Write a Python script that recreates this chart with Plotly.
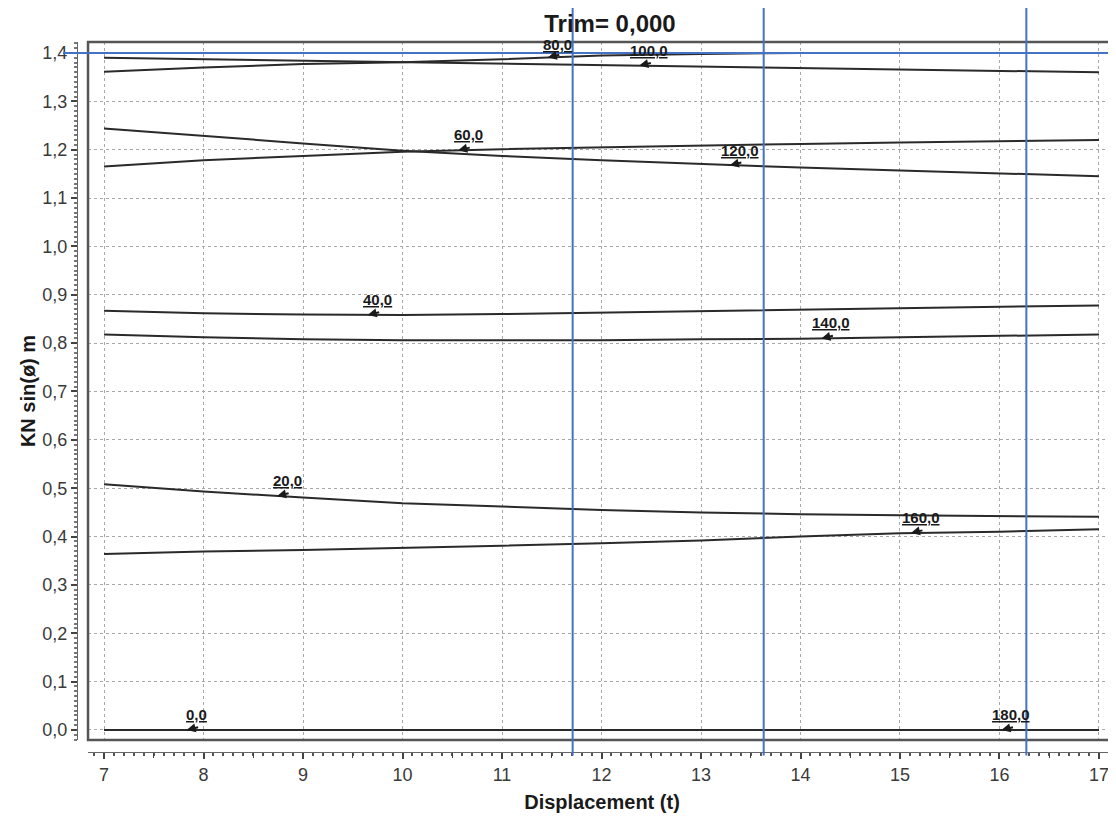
import numpy as np
import plotly.graph_objects as go

# ---------------- data ----------------
displacement = [7, 8, 9, 10, 11, 12, 13, 14, 15, 16, 17]

kn_0 = [0.0, 0.0, 0.0, 0.0, 0.0, 0.0, 0.0, 0.0, 0.0, 0.0, 0.0]
kn_20 = [0.508, 0.493, 0.481, 0.469, 0.462, 0.455, 0.450, 0.446, 0.444, 0.442, 0.441]
kn_40 = [0.867, 0.862, 0.859, 0.858, 0.860, 0.863, 0.866, 0.869, 0.872, 0.875, 0.878]
kn_60 = [1.165, 1.178, 1.187, 1.196, 1.201, 1.205, 1.208, 1.212, 1.215, 1.217, 1.220]
kn_80 = [1.361, 1.370, 1.377, 1.381, 1.387, 1.395, 1.398, 1.400, 1.400, 1.400, 1.400]
kn_100 = [1.390, 1.387, 1.384, 1.381, 1.379, 1.375, 1.372, 1.369, 1.366, 1.363, 1.360]
kn_120 = [1.244, 1.228, 1.213, 1.198, 1.187, 1.178, 1.170, 1.163, 1.157, 1.151, 1.145]
kn_140 = [0.818, 0.812, 0.808, 0.806, 0.806, 0.806, 0.808, 0.809, 0.812, 0.815, 0.818]
kn_160 = [0.364, 0.369, 0.372, 0.376, 0.381, 0.386, 0.392, 0.400, 0.407, 0.410, 0.415]
kn_180 = [0.0, 0.0, 0.0, 0.0, 0.0, 0.0, 0.0, 0.0, 0.0, 0.0, 0.0]

angle_labels = ["0,0", "20,0", "40,0", "60,0", "80,0", "100,0", "120,0", "140,0", "160,0", "180,0"]
label_x = [7.93, 8.84, 9.75, 10.66, 11.56, 12.48, 13.39, 14.31, 15.21, 16.12]

half_ticks = [7.5, 8.5, 9.5, 10.5, 11.5, 12.5, 13.5, 14.5, 15.5, 16.5]

marker_displacements = [11.71, 13.63, 16.27]
marker_kn = 1.40

title_text = "Trim= 0,000"
x_title = "Displacement (t)"
y_title = "KN sin(ø) m"

curves = [kn_0, kn_20, kn_40, kn_60, kn_80, kn_100, kn_120, kn_140, kn_160, kn_180]

# ---------------- figure ----------------
fig = go.Figure()
for name, ys in zip(angle_labels, curves):
    fig.add_trace(go.Scatter(x=displacement, y=ys, mode="lines", name=name,
                             line=dict(color="#2a2a2a", width=2), showlegend=False,
                             hoverinfo="skip"))

font_family = "Liberation Sans, Arial, sans-serif"
annotations = []
for name, ys, lx in zip(angle_labels, curves, label_x):
    yv = float(np.interp(lx, displacement, ys))
    ysh = 2 if name == "80,0" else 5
    annotations.append(dict(x=lx, y=yv, xref="x", yref="y", text="<b><u>" + name + "</u></b>",
                            showarrow=False, yanchor="bottom", xanchor="center", yshift=ysh,
                            font=dict(family=font_family, size=15, color="#1a1a1a")))
    ax_x = lx - 0.1
    yv2 = float(np.interp(ax_x, displacement, ys))
    annotations.append(dict(x=ax_x, y=yv2, xref="x", yref="y", text="", showarrow=True,
                            ax=13, ay=-3, arrowhead=2, arrowsize=0.9, arrowwidth=2,
                            arrowcolor="#1a1a1a", standoff=0))

shapes = []
# frame around the plotting region
shapes.append(dict(type="rect", xref="paper", yref="paper", x0=0.0106, x1=1.01, y0=0.0169, y1=1.0,
                   line=dict(color="#555555", width=2.5), layer="above"))
for xv in marker_displacements:
    shapes.append(dict(type="line", xref="x", yref="paper", x0=xv, x1=xv, y0=-0.005, y1=1.0507,
                       line=dict(color="#4472C4", width=2), layer="above"))
shapes.append(dict(type="line", xref="paper", yref="y", x0=-0.0135, x1=1.0, y0=marker_kn, y1=marker_kn,
                   line=dict(color="#4472C4", width=2), layer="above"))

xrange_ = [6.839, 17.171]
tickfont = dict(family=font_family, size=18, color="#3a3a3a")
fig.update_layout(
    width=1108, height=805,
    margin=dict(l=69, r=0, t=34, b=61, pad=0, autoexpand=False),
    paper_bgcolor="white", plot_bgcolor="white",
    separators=", ",
    title=dict(text="<b>" + title_text + "</b>", x=0.5433, xanchor="center", y=0.981, yanchor="middle",
               automargin=False,
               font=dict(family=font_family, size=24, color="#1a1a1a")),
    xaxis=dict(range=xrange_, domain=[0.0106, 1.0], anchor="free", position=0,
               automargin=False,
               tick0=7, dtick=1, ticks="outside", ticklen=6, tickwidth=1.5, tickcolor="#444",
               showline=True, linecolor="#666", linewidth=1,
               showgrid=True, gridcolor="#a8a8a8", griddash="dot", gridwidth=1,
               zeroline=False, tickfont=tickfont,
               minor=dict(dtick=0.1, ticks="outside", ticklen=3, tickcolor="#555", showgrid=False),
               title=dict(text="<b>" + x_title + "</b>", standoff=12,
                          font=dict(family=font_family, size=20, color="#1a1a1a"))),
    xaxis2=dict(range=xrange_, domain=[0.0106, 1.0], anchor="free", position=0, overlaying="x",
                automargin=False, tickmode="array", tickvals=half_ticks, showticklabels=False,
                ticks="outside", ticklen=4.5, tickwidth=1.3, tickcolor="#444",
                showgrid=False, zeroline=False, showline=False),
    yaxis=dict(range=[-0.0207, 1.4227], domain=[0.0169, 1.0], anchor="free", position=0,
               automargin=False,
               tick0=0, dtick=0.1, tickformat=".1f", ticks="outside", ticklen=6, tickwidth=1.5,
               tickcolor="#444", showline=True, linecolor="#666", linewidth=1,
               showgrid=True, gridcolor="#a8a8a8", griddash="dot", gridwidth=1,
               zeroline=False, tickfont=tickfont,
               minor=dict(dtick=0.01, ticks="outside", ticklen=3, tickcolor="#777", showgrid=False),
               title=dict(text="<b>" + y_title + "</b>", standoff=0,
                          font=dict(family=font_family, size=20, color="#1a1a1a"))),
    annotations=annotations,
    shapes=shapes,
)
# invisible helper trace so the half-unit tick axis is drawn
fig.add_trace(go.Scatter(x=[], y=[], xaxis="x2", yaxis="y", showlegend=False, hoverinfo="skip"))

fig.write_html("out.html")
